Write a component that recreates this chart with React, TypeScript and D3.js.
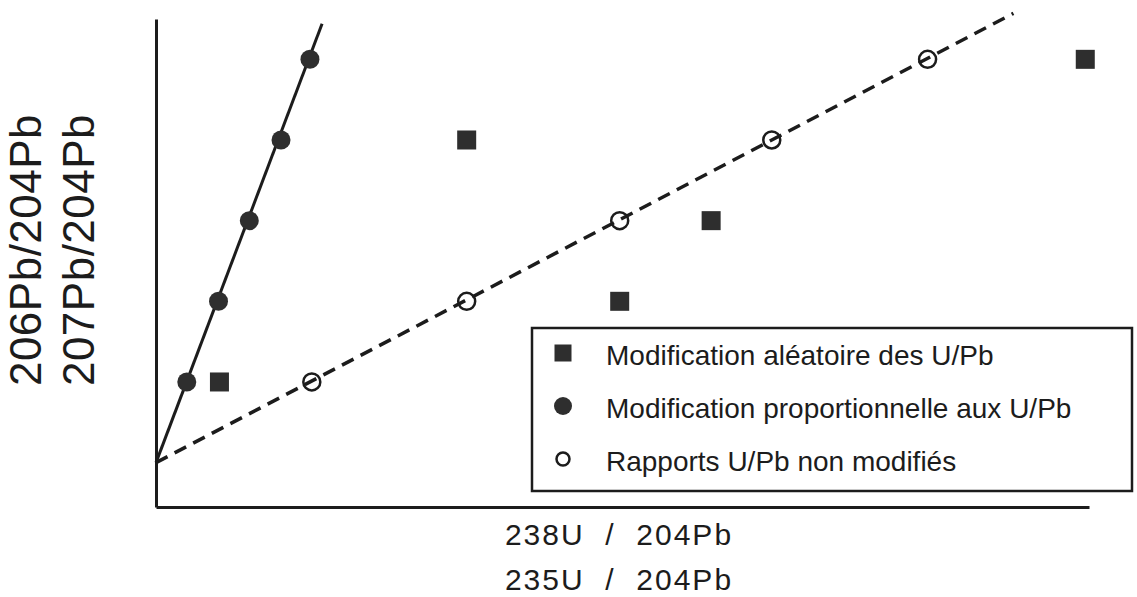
import React, { useEffect, useRef } from 'react';
import * as d3 from 'd3';

// x: 238U/204Pb (arbitrary units), y: 206Pb/204Pb (arbitrary units)
const proportionalX = [3.3, 6.7, 10.0, 13.4, 16.5];
const proportionalY = [1, 2, 3, 4, 5];
const unchangedX = [16.7, 33.3, 49.7, 66.0, 82.7];
const unchangedY = [1, 2, 3, 4, 5];
const randomX = [6.8, 33.3, 49.7, 59.5, 99.6];
const randomY = [1, 4, 2, 3, 5];

// the two isochron lines through the common origin
const solidLineX = [0, 17.8];
const solidLineY = [0, 5.44];
const dashedLineX = [0, 91.9];
const dashedLineY = [0, 5.57];

const legendLabels = [
    'Modification aléatoire des U/Pb',
    'Modification proportionnelle aux U/Pb',
    'Rapports U/Pb non modifiés'
];
const xLabels = ['238U  /  204Pb', '235U  /  204Pb'];
const yLabels = ['206Pb/204Pb', '207Pb/204Pb'];

const W = 1137;
const H = 597;
const ink = '#1c1c1c';
const markFill = '#2e2e2e';
const font = '"Liberation Sans", Arial, Helvetica, sans-serif';

export default function App() {
    const ref = useRef<SVGSVGElement>(null);

    useEffect(() => {
        const svg = d3.select(ref.current);
        svg.selectAll('*').remove();

        const scale_x = d3.scaleLinear().domain([0, 100]).range([156, 1089]);
        const scale_y = d3.scaleLinear().domain([-0.55, 5.5]).range([507, 19]);

        // axes: plain lines, no ticks
        const axisStyle = (g: d3.Selection<SVGGElement, unknown, null, undefined>) => {
            g.select('.domain').attr('stroke', ink).attr('stroke-width', 3);
        };
        svg.append('g')
            .attr('transform', `translate(0, ${scale_y(-0.55)})`)
            .call(d3.axisBottom(scale_x).tickValues([]).tickSizeOuter(0))
            .call(axisStyle);
        svg.append('g')
            .attr('transform', `translate(${scale_x(0)}, 0)`)
            .call(d3.axisLeft(scale_y).tickValues([]).tickSizeOuter(0))
            .call(axisStyle);

        const path = d3.line();
        const solid = solidLineX.map((x, i) => [scale_x(x), scale_y(solidLineY[i])] as [number, number]);
        const dashed = dashedLineX.map((x, i) => [scale_x(x), scale_y(dashedLineY[i])] as [number, number]);

        svg.append('path')
            .attr('d', path(solid))
            .attr('fill', 'none')
            .attr('stroke', ink)
            .attr('stroke-width', 3);

        svg.append('path')
            .attr('d', path(dashed))
            .attr('fill', 'none')
            .attr('stroke', ink)
            .attr('stroke-width', 3.5)
            .attr('stroke-dasharray', '13,8');

        // filled circles
        svg.append('g')
            .selectAll('circle')
            .data(proportionalX)
            .join('circle')
            .attr('cx', (d) => scale_x(d))
            .attr('cy', (_, i) => scale_y(proportionalY[i]))
            .attr('r', 9.5)
            .attr('fill', markFill);

        // open circles
        svg.append('g')
            .selectAll('circle')
            .data(unchangedX)
            .join('circle')
            .attr('cx', (d) => scale_x(d))
            .attr('cy', (_, i) => scale_y(unchangedY[i]))
            .attr('r', 8.5)
            .attr('fill', 'none')
            .attr('stroke', ink)
            .attr('stroke-width', 2.5);

        // squares
        const sq = 19;
        svg.append('g')
            .selectAll('rect')
            .data(randomX)
            .join('rect')
            .attr('x', (d) => scale_x(d) - sq / 2)
            .attr('y', (_, i) => scale_y(randomY[i]) - sq / 2)
            .attr('width', sq)
            .attr('height', sq)
            .attr('fill', markFill);

        // legend
        const legend = svg.append('g');
        legend.append('rect')
            .attr('x', 532)
            .attr('y', 328)
            .attr('width', 600)
            .attr('height', 163)
            .attr('fill', 'white')
            .attr('stroke', ink)
            .attr('stroke-width', 2.5);

        const rowY = [353, 406, 459];
        const symX = 563;
        legend.append('rect')
            .attr('x', symX - 8.5)
            .attr('y', rowY[0] - 8.5)
            .attr('width', 17)
            .attr('height', 17)
            .attr('fill', markFill);
        legend.append('circle')
            .attr('cx', symX)
            .attr('cy', rowY[1])
            .attr('r', 9)
            .attr('fill', markFill);
        legend.append('circle')
            .attr('cx', symX)
            .attr('cy', rowY[2])
            .attr('r', 6.5)
            .attr('fill', 'none')
            .attr('stroke', ink)
            .attr('stroke-width', 2.5);

        legend.selectAll('text')
            .data(legendLabels)
            .join('text')
            .attr('x', 606)
            .attr('y', (_, i) => rowY[i] + 12)
            .attr('font-family', font)
            .attr('font-size', 28)
            .attr('fill', ink)
            .text((d) => d);

        // axis titles
        svg.append('g')
            .selectAll('text')
            .data(xLabels)
            .join('text')
            .attr('x', 619)
            .attr('y', (_, i) => 545 + i * 45)
            .attr('text-anchor', 'middle')
            .attr('font-family', font)
            .attr('font-size', 30)
            .attr('letter-spacing', 2)
            .attr('fill', ink)
            .style('white-space', 'pre')
            .text((d) => d);

        svg.append('g')
            .selectAll('text')
            .data(yLabels)
            .join('text')
            .attr('transform', (_, i) => `translate(${41 + i * 53}, 250) rotate(-90)`)
            .attr('text-anchor', 'middle')
            .attr('font-family', font)
            .attr('font-size', 44)
            .attr('letter-spacing', 0.5)
            .attr('fill', ink)
            .text((d) => d);
    }, []);

    return (
        <svg
            ref={ref}
            width={W}
            height={H}
            style={{ position: 'absolute', left: 0, top: 0, background: 'white' }}
        />
    );
}
